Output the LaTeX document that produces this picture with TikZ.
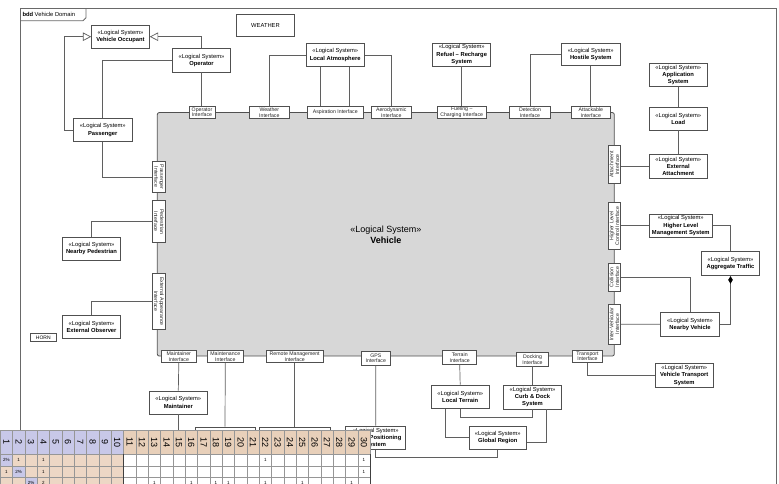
\documentclass[tikz,border=0pt]{standalone}
\usepackage{fontspec}
\setmainfont{Liberation Sans}
\usetikzlibrary{positioning, arrows.meta}

\definecolor{lineGray}{RGB}{80,80,80}
\definecolor{connGray}{RGB}{95,95,95}
\definecolor{frameGray}{RGB}{105,105,105}
\definecolor{vehGray}{RGB}{215,215,215}
\definecolor{gridGray}{RGB}{150,150,150}
\definecolor{hdrBlue}{RGB}{200,200,232}
\definecolor{hdrTan}{RGB}{232,208,186}
\definecolor{cellTan}{RGB}{237,215,197}

\newcommand{\lsys}[1]{«Logical System»\\#1}

\begin{document}
\begin{tikzpicture}[
        x=1pt, y=-1pt,
        node distance=20pt,
        block/.style={draw=lineGray, fill=white, line width=0.8pt, inner sep=0pt, align=center, minimum width=58.3pt, minimum height=23.3pt, font=\fontsize{5.8}{7.2}\selectfont},
        port/.style={draw=lineGray, fill=white, line width=0.7pt, inner sep=0pt, align=center, minimum height=12pt, text=black!85, font=\fontsize{5.2}{5.8}\selectfont},
        lport/.style={port, rotate=-90, minimum height=12.6pt},
        rport/.style={port, rotate=90, minimum height=12.6pt},
        conn/.style={draw=connGray, line width=0.7pt},
        frame/.style={draw=frameGray, line width=0.8pt},
        gen/.style={conn, -{Triangle[open, length=8.5pt, width=8.5pt, fill=white]}},
        comp/.style={conn, {Diamond[length=7.6pt, width=4.6pt, color=black]}-},
        cell/.style={draw=gridGray, line width=0.4pt, inner sep=0pt, minimum width=12.33pt, minimum height=11.5pt, anchor=north west},
        hcell/.style={cell, minimum height=24pt},
        val/.style={font=\fontsize{4.5}{5}\selectfont, inner sep=0pt}
    ]
    \useasboundingbox (0,0) rectangle (779,484);
    \clip (0,0) rectangle (779,484);

    % frame and title tab
    \draw[frame] (20.7,484) -- (20.7,8.7) -- (776,8.7) -- (776,484);
    \draw[frame] (20.7,20.7) -- (83,20.7) -- (86,17.7) -- (86,8.7);
    \node[anchor=west, inner sep=0pt, font=\fontsize{5.8}{7}\selectfont] (FrameTitle) at (22.3,14.7) {\textbf{bdd} Vehicle Domain};

    % the vehicle block
    \node[draw=lineGray, fill=vehGray, line width=0.8pt, rounded corners=2pt, inner sep=0pt, minimum width=457pt, minimum height=243.5pt, align=center, font=\fontsize{9}{11}\selectfont] (Vehicle) at (385.8,234.3) {«Logical System»\\\textbf{Vehicle}};

    % ports on top
    \node[port, minimum width=26pt] (OperatorIf) at (202,112.3) {Operator\\Interface};
    \node[port, minimum width=40pt] (WeatherIf) at (269.3,112.3) {Weather\\Interface};
    \node[port, minimum width=56pt] (AspirIf) at (335.3,112.3) {Aspiration Interface};
    \node[port, minimum width=39.5pt] (AeroIf) at (391.3,112.3) {Aerodynamic\\Interface};
    \node[port, minimum width=48.7pt, minimum height=12.3pt] (FuelIf) at (461.7,112.3) {Fueling --\\Charging Interface};
    \node[port, minimum width=41.3pt] (DetectIf) at (530,112.3) {Detection\\Interface};
    \node[port, minimum width=39.7pt] (AttackIf) at (590.8,112.3) {Attackable\\Interface};

    % ports on the right
    \node[rport, minimum width=37.6pt] (AttachIf) at (614.3,164.5) {Attachment\\Interface};
    \node[rport, minimum width=46.6pt] (HLCIf) at (614.3,226) {Higher Level\\Control Interface};
    \node[rport, minimum width=27.7pt] (CollIf) at (614.3,277.2) {Collision\\Interface};
    \node[rport, minimum width=40.3pt] (InterVehIf) at (614.3,324.2) {Inter-Vehicular\\Interface};

    % ports on the left
    \node[lport, minimum width=31pt] (PassIf) at (159,177) {Passenger\\Interface};
    \node[lport, minimum width=42pt] (PedIf) at (159,221.7) {Pedestrian\\Interface};
    \node[lport, minimum width=56pt] (ExtAppIf) at (159,301.3) {External Appearance\\Interface};

    % ports on the bottom
    \node[port, minimum width=34.3pt] (MaintrIf) at (178.8,356.5) {Maintainer\\Interface};
    \node[port, minimum width=36pt] (MaintcIf) at (225.3,356.5) {Maintenance\\Interface};
    \node[port, minimum width=57.3pt] (RemoteIf) at (294.7,356.5) {Remote Management\\Interface};
    \node[port, minimum width=28.3pt, minimum height=13.3pt] (GpsIf) at (375.8,358.3) {GPS\\Interface};
    \node[port, minimum width=34pt, minimum height=13.3pt] (TerrainIf) at (459.7,357.3) {Terrain\\Interface};
    \node[port, minimum width=31.7pt, minimum height=13.3pt] (DockIf) at (532.5,359.3) {Docking\\Interface};
    \node[port, minimum width=30.3pt, minimum height=12.7pt] (TransIf) at (587.5,356.3) {Transport\\Interface};

    % logical systems
    \node[block, minimum width=57.6pt] (VehOccupant) at (120.5,36.7) {\lsys{\textbf{Vehicle Occupant}}};
    \node[block] (Operator) at (201.5,60.3) {\lsys{\textbf{Operator}}};
    \node[block, minimum width=59pt] (Passenger) at (102.8,130) {\lsys{\textbf{Passenger}}};
    \node[block, minimum width=57.6pt, minimum height=22.7pt] (Weather) at (265.5,25.3) {WEATHER};
    \node[block] (LocalAtmo) at (335.2,55) {\lsys{\textbf{Local Atmosphere}}};
    \node[block, minimum width=58pt, minimum height=22.7pt] (Refuel) at (461.7,54.7) {\lsys{\textbf{Refuel -- Recharge}\\\textbf{System}}};
    \node[block, minimum height=22.4pt] (Hostile) at (590.8,54.5) {\lsys{\textbf{Hostile System}}};
    \node[block, minimum height=23.4pt] (AppSys) at (678.2,75) {\lsys{\textbf{Application}\\\textbf{System}}};
    \node[block, minimum height=22.6pt, below=of AppSys] (Load) {\lsys{\textbf{Load}}};
    \node[block, minimum height=23.4pt, below=24pt of Load] (ExtAttach) {\lsys{\textbf{External}\\\textbf{Attachment}}};
    \node[block, minimum width=63.7pt] (HigherMgmt) at (680.8,225.7) {\lsys{\textbf{Higher Level}\\\textbf{Management System}}};
    \node[block, minimum width=57.6pt, minimum height=24pt] (AggTraffic) at (730.5,263.7) {\lsys{\textbf{Aggregate Traffic}}};
    \node[block, minimum width=58.6pt] (NearbyVeh) at (690,324.3) {\lsys{\textbf{Nearby Vehicle}}};
    \node[block, minimum height=24pt] (VehTransport) at (684.2,375.3) {\lsys{\textbf{Vehicle Transport}\\\textbf{System}}};
    \node[block, minimum height=22.7pt] (NearbyPed) at (91.5,248.7) {\lsys{\textbf{Nearby Pedestrian}}};
    \node[block, minimum height=23pt] (ExtObserver) at (91.5,327.2) {\lsys{\textbf{External Observer}}};
    \node[block, minimum width=26.7pt, minimum height=8.4pt, line width=0.7pt, font=\fontsize{5}{6}\selectfont] (Horn) at (43.3,337.5) {HORN};
    \node[block, minimum width=58.7pt, minimum height=23pt] (Maintainer) at (178.3,402.5) {\lsys{\textbf{Maintainer}}};
    \node[block] (LocalTerrain) at (460.2,396.7) {\lsys{\textbf{Local Terrain}}};
    \node[block, minimum height=24pt] (CurbDock) at (532.5,397) {\lsys{\textbf{Curb \& Dock}\\\textbf{System}}};
    \node[block, minimum width=57.7pt] (GlobalRegion) at (497.8,437.7) {\lsys{\textbf{Global Region}}};
    \node[block, minimum width=60pt] (GlobalPos) at (375.7,437.7) {\lsys{\textbf{Global Positioning}\\\textbf{System}}};
    \node[block, minimum width=60pt, minimum height=23pt] (HidA) at (225,438.5) {};
    \node[block, minimum width=70.7pt, minimum height=23pt] (HidB) at (294.7,438.5) {};
    \coordinate (MaintEnd) at (178.3,440);

    % generalisation
    \draw[gen] (Passenger.west) -- ++(-8.3,0) |- (VehOccupant.west);
    \draw[gen] (Operator.north) |- (VehOccupant.east);

    % connectors
    \draw[conn] (Operator.west) -| (Passenger.north);
    \draw[conn] (Passenger.south) |- (PassIf.south);
    \draw[conn] (Operator.south) -- (Operator.south |- OperatorIf.north);
    \draw[conn] (LocalAtmo.west) -| (WeatherIf.north);
    \draw[conn] ([xshift=-14.5pt]LocalAtmo.south) -- ([xshift=-14.5pt]LocalAtmo.south |- AspirIf.north);
    \draw[conn] ([xshift=14.1pt]LocalAtmo.south) -- ([xshift=14.1pt]LocalAtmo.south |- AspirIf.north);
    \draw[conn] (LocalAtmo.east) -| (AeroIf.north);
    \draw[conn] (Refuel.south) -- (FuelIf.north);
    \draw[conn] (Hostile.west) -| (DetectIf.north);
    \draw[conn] (Hostile.south) -- (AttackIf.north);
    \draw[conn] (AppSys) -- (Load);
    \draw[conn] (Load) -- (ExtAttach);
    \draw[conn] (ExtAttach.west) -- (ExtAttach.west -| AttachIf.south);
    \draw[conn] (HigherMgmt.west) -- (HigherMgmt.west -| HLCIf.south);
    \draw[conn] (HigherMgmt.east) -| (AggTraffic.north);
    \draw[conn] (CollIf.south) -| (NearbyVeh.north);
    \draw[conn] (InterVehIf.south) -- (NearbyVeh.west);
    \draw[comp] (AggTraffic.south) |- (NearbyVeh.east);
    \draw[conn] (TransIf.south) |- (VehTransport.west);
    \draw[conn] (PedIf.south) -| (NearbyPed.north);
    \draw[conn] (ExtAppIf.south) -| (ExtObserver.north);
    \draw[conn] (MaintrIf.south) -- (Maintainer.north);
    \draw[conn] (Maintainer.south) -- (MaintEnd);
    \draw[conn] (MaintcIf.south) -- (HidA.north);
    \draw[conn] (RemoteIf.south) -- (HidB.north);
    \draw[conn] (GpsIf.south) -- (GlobalPos.north);
    \draw[conn] (GlobalPos.south) -- ++(0,7.5) -| (GlobalRegion.south);
    \draw[conn] (TerrainIf.south) -- (LocalTerrain.north);
    \draw[conn] (DockIf.south) -- (CurbDock.north);
    \draw[conn] (LocalTerrain.south) -- ++(0,9) -| (CurbDock.south);
    \draw[conn] ([xshift=-14.5pt]LocalTerrain.south) |- (GlobalRegion.west);
    \draw[conn] ([xshift=14pt]CurbDock.south) |- ([yshift=-5pt]GlobalRegion.east);

    % matrix overlay
    \foreach \c in {1,...,30} {
        \pgfmathsetmacro{\xl}{(\c-1)*12.33}
        \ifnum\c<11 \def\hc{hdrBlue}\else\def\hc{hdrTan}\fi
        \node[hcell, fill=\hc] (Hd\c) at (\xl,430) {};
        \node[rotate=-90, inner sep=0pt, font=\fontsize{9}{9}\selectfont] at (Hd\c) {\c};
        \foreach \r in {1,2,3} {
            \pgfmathsetmacro{\yt}{454+(\r-1)*11.5}
            \ifnum\c<11 \def\bc{cellTan}\else\def\bc{white}\fi
            \ifnum\c=\r \def\bc{hdrBlue}\fi
            \node[cell, fill=\bc] (C\r-\c) at (\xl,\yt) {};
        }
    }
    \draw[black!75, line width=0.9pt] (C1-11.north west) -- (C3-11.south west);
    \draw[black!75, line width=0.9pt] (C1-30.north east) -- (C3-30.south east);
    \foreach \r/\c/\v in {1/1/2\%, 1/2/1, 1/4/1, 1/22/1, 1/30/1,
                          2/1/1, 2/2/2\%, 2/4/1, 2/30/1,
                          3/3/2\%, 3/4/2, 3/13/1, 3/16/1, 3/18/1, 3/19/1, 3/22/1, 3/25/1, 3/29/1}
        \node[val] at (C\r-\c) {\v};

\end{tikzpicture}
\end{document}
